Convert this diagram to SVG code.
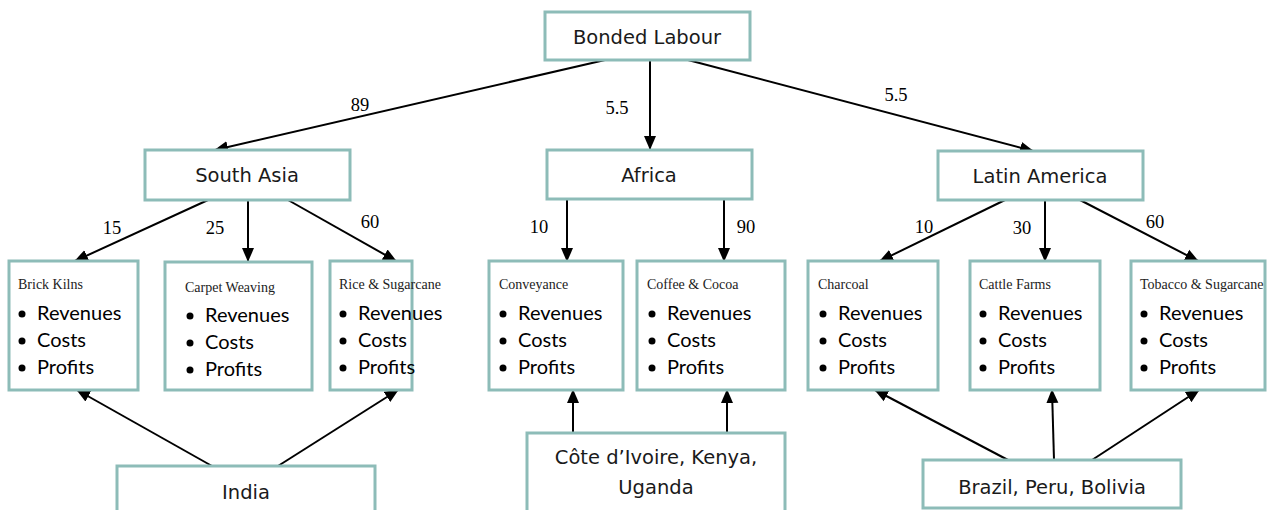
<svg xmlns="http://www.w3.org/2000/svg" width="1270" height="510" viewBox="0 0 1270 510">
<style>
.box{fill:#fff;stroke:#8dbcb8;stroke-width:3}
.main{font-family:"DejaVu Sans","Noto Sans",sans-serif;font-size:19.5px;fill:#1a1a1a;text-anchor:middle}
.ttl{font-family:"Liberation Serif",serif;font-size:14px;fill:#222}
.bl{font-family:Lato,"Liberation Sans",sans-serif;font-size:20px;fill:#000}
.num{font-family:"Liberation Serif",serif;font-size:18.5px;fill:#000;text-anchor:middle}
.ln{stroke:#000;stroke-width:2;fill:none;marker-end:url(#ah)}
</style>
<defs>
<marker id="ah" markerUnits="userSpaceOnUse" markerWidth="14" markerHeight="14" viewBox="0 0 14 14" refX="13" refY="7" orient="auto">
<path d="M0,1 L14,7 L0,13 Z" fill="#000"/>
</marker>
</defs>
<rect width="1270" height="510" fill="#fff"/>
<g id="connectors">
<line class="ln" x1="605" y1="60" x2="215" y2="150"/>
<line class="ln" x1="650" y1="60" x2="650" y2="149"/>
<line class="ln" x1="688" y1="60" x2="1033" y2="151"/>
<line class="ln" x1="208" y1="200" x2="75" y2="261"/>
<line class="ln" x1="248" y1="200" x2="248" y2="261"/>
<line class="ln" x1="288" y1="200" x2="396" y2="261"/>
<line class="ln" x1="567" y1="199" x2="567" y2="261"/>
<line class="ln" x1="724" y1="199" x2="724" y2="261"/>
<line class="ln" x1="1005" y1="200" x2="880" y2="261"/>
<line class="ln" x1="1045" y1="200" x2="1045" y2="261"/>
<line class="ln" x1="1080" y1="200" x2="1198" y2="261"/>
<line class="ln" x1="212" y1="466" x2="77" y2="390"/>
<line class="ln" x1="278" y1="466" x2="398" y2="390"/>
<line class="ln" x1="573" y1="433" x2="573" y2="390"/>
<line class="ln" x1="727" y1="433" x2="727" y2="390"/>
<line class="ln" x1="1008" y1="460" x2="875" y2="390"/>
<line class="ln" x1="1054" y1="460" x2="1052" y2="390"/>
<line class="ln" x1="1092" y1="460" x2="1199" y2="390"/>
<text class="num" x="360" y="111">89</text>
<text class="num" x="617" y="114">5.5</text>
<text class="num" x="896" y="101">5.5</text>
<text class="num" x="112" y="234">15</text>
<text class="num" x="215" y="234">25</text>
<text class="num" x="370" y="228">60</text>
<text class="num" x="539" y="233">10</text>
<text class="num" x="746" y="233">90</text>
<text class="num" x="924" y="233">10</text>
<text class="num" x="1022" y="234">30</text>
<text class="num" x="1155" y="228">60</text>
</g>
<g id="bonded"><rect class="box" x="545" y="12" width="205" height="48"/><text class="main" x="647" y="44">Bonded Labour</text></g>
<g id="southasia"><rect class="box" x="145" y="150" width="205" height="50"/><text class="main" x="247" y="182">South Asia</text></g>
<g id="africa"><rect class="box" x="547" y="150" width="205" height="49"/><text class="main" x="649" y="182">Africa</text></g>
<g id="latam"><rect class="box" x="938" y="151" width="205" height="49"/><text class="main" x="1040" y="183">Latin America</text></g>

<g id="brick"><rect class="box" x="9" y="261" width="129" height="129"/><text class="ttl" x="18" y="289">Brick Kilns</text>
<circle cx="22" cy="314" r="3.5"/><circle cx="22" cy="341" r="3.5"/><circle cx="22" cy="368" r="3.5"/>
<text class="bl" x="37" y="320">Revenues</text><text class="bl" x="37" y="347">Costs</text><text class="bl" x="37" y="374">Profits</text></g>
<g id="carpet"><rect class="box" x="165" y="262" width="147" height="128"/><text class="ttl" x="185" y="292">Carpet Weaving</text>
<circle cx="190" cy="316" r="3.5"/><circle cx="190" cy="343" r="3.5"/><circle cx="190" cy="370" r="3.5"/>
<text class="bl" x="205" y="322">Revenues</text><text class="bl" x="205" y="349">Costs</text><text class="bl" x="205" y="376">Profits</text></g>
<g id="rice"><rect class="box" x="330" y="261" width="82" height="129"/><text class="ttl" x="339" y="289">Rice &amp; Sugarcane</text>
<circle cx="343" cy="314" r="3.5"/><circle cx="343" cy="341" r="3.5"/><circle cx="343" cy="368" r="3.5"/>
<text class="bl" x="358" y="320">Revenues</text><text class="bl" x="358" y="347">Costs</text><text class="bl" x="358" y="374">Profits</text></g>
<g id="conveyance"><rect class="box" x="489" y="261" width="134" height="129"/><text class="ttl" x="499" y="289">Conveyance</text>
<circle cx="503" cy="314" r="3.5"/><circle cx="503" cy="341" r="3.5"/><circle cx="503" cy="368" r="3.5"/>
<text class="bl" x="518" y="320">Revenues</text><text class="bl" x="518" y="347">Costs</text><text class="bl" x="518" y="374">Profits</text></g>
<g id="coffee"><rect class="box" x="637" y="261" width="148" height="129"/><text class="ttl" x="647" y="289">Coffee &amp; Cocoa</text>
<circle cx="652" cy="314" r="3.5"/><circle cx="652" cy="341" r="3.5"/><circle cx="652" cy="368" r="3.5"/>
<text class="bl" x="667" y="320">Revenues</text><text class="bl" x="667" y="347">Costs</text><text class="bl" x="667" y="374">Profits</text></g>
<g id="charcoal"><rect class="box" x="808" y="261" width="130" height="129"/><text class="ttl" x="818" y="289">Charcoal</text>
<circle cx="823" cy="314" r="3.5"/><circle cx="823" cy="341" r="3.5"/><circle cx="823" cy="368" r="3.5"/>
<text class="bl" x="838" y="320">Revenues</text><text class="bl" x="838" y="347">Costs</text><text class="bl" x="838" y="374">Profits</text></g>
<g id="cattle"><rect class="box" x="970" y="261" width="130" height="129"/><text class="ttl" x="979" y="289">Cattle Farms</text>
<circle cx="983" cy="314" r="3.5"/><circle cx="983" cy="341" r="3.5"/><circle cx="983" cy="368" r="3.5"/>
<text class="bl" x="998" y="320">Revenues</text><text class="bl" x="998" y="347">Costs</text><text class="bl" x="998" y="374">Profits</text></g>
<g id="tobacco"><rect class="box" x="1131" y="261" width="134" height="129"/><text class="ttl" x="1140" y="289">Tobacco &amp; Sugarcane</text>
<circle cx="1144" cy="314" r="3.5"/><circle cx="1144" cy="341" r="3.5"/><circle cx="1144" cy="368" r="3.5"/>
<text class="bl" x="1159" y="320">Revenues</text><text class="bl" x="1159" y="347">Costs</text><text class="bl" x="1159" y="374">Profits</text></g>

<g id="india"><rect class="box" x="117" y="466" width="258" height="60"/><text class="main" x="246" y="499">India</text></g>
<g id="cote"><rect class="box" x="527" y="433" width="258" height="90"/><text class="main" x="656" y="464">Côte d’Ivoire, Kenya,</text><text class="main" x="656" y="494">Uganda</text></g>
<g id="brazil"><rect class="box" x="923" y="460" width="258" height="48"/><text class="main" x="1052" y="494">Brazil, Peru, Bolivia</text></g>
</svg>
